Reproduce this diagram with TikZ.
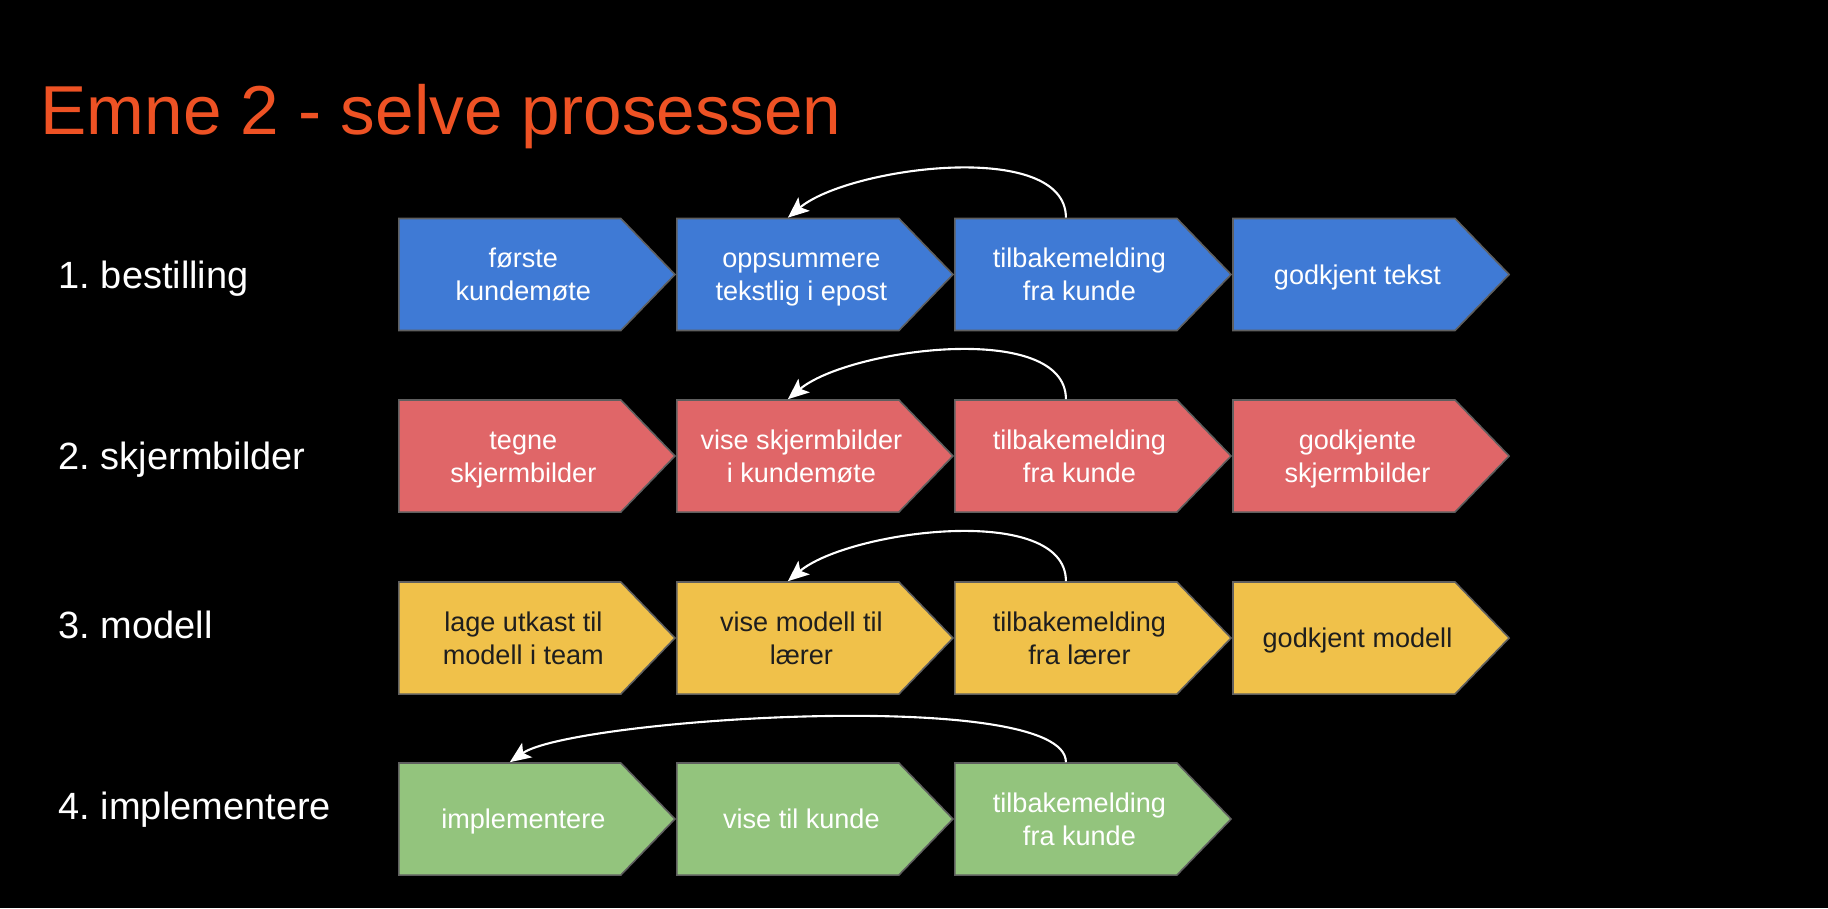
\documentclass[tikz,border=0pt]{standalone}
\usepackage{fontspec}
\setmainfont{Liberation Sans}
\usetikzlibrary{shapes.symbols, positioning, arrows.meta}
\frenchspacing
% text of a step, set a little right of and below the body centre
\newcommand{\steptext}[1]{\raisebox{-0.9pt}[\height][\depth]{\begin{tabular}{@{}c@{\hspace{-0.27cm}}}#1\end{tabular}}}

\begin{document}
\begin{tikzpicture}[x=0.01cm, y=0.01cm,
    stepbox/.style={signal, signal to=east, signal pointer angle=92,
      draw=boxgrey, line width=0.45pt, minimum width=2.76cm, minimum height=1.12cm,
      inner sep=0pt, text=white, font=\fontsize{7.7}{9.3}\selectfont},
    rowlabel/.style={anchor=base west, inner sep=0pt, text=white,
      font=\fontsize{10.8}{13}\selectfont},
    feedback/.style={draw=white, line width=0.6pt,
      -{Stealth[length=6pt, width=5pt, inset=1.4pt]}}]
    % Colors
    \definecolor{boxgrey}{RGB}{95, 95, 95}
    \definecolor{titlered}{RGB}{238, 82, 36}
    \definecolor{bestblue}{RGB}{63, 122, 213}
    \definecolor{skjermred}{RGB}{224, 102, 104}
    \definecolor{modellyellow}{RGB}{240, 193, 74}
    \definecolor{implgreen}{RGB}{147, 196, 125}
    \definecolor{darktext}{RGB}{30, 30, 30}

    % Background
    \fill[black] (0,0) rectangle (1828,908);
    \useasboundingbox (0,0) rectangle (1828,908);

    % Title
    \node[anchor=base west, inner sep=0pt, text=titlered,
      font=\fontsize{19.7}{24}\selectfont] (title) at (40,774) {Emne 2 - selve prosessen};

    % Row labels
    \node[rowlabel] (lab1) at (58,620) {1. bestilling};
    \node[rowlabel] (lab2) at (58,439) {2. skjermbilder};
    \node[rowlabel] (lab3) at (58,270) {3. modell};
    \node[rowlabel] (lab4) at (58,89) {4. implementere};

    % 1. bestilling
    \node[stepbox, fill=bestblue, anchor=west] (b11) at (398,633.5) {\steptext{første\\kundemøte}};
    \node[stepbox, fill=bestblue, right=0pt of b11] (b12) {\steptext{oppsummere\\tekstlig i epost}};
    \node[stepbox, fill=bestblue, right=0pt of b12] (b13) {\steptext{tilbakemelding\\fra kunde}};
    \node[stepbox, fill=bestblue, right=0pt of b13] (b14) {\steptext{godkjent tekst}};

    % 2. skjermbilder
    \node[stepbox, fill=skjermred, anchor=west] (b21) at (398,452) {\steptext{tegne\\skjermbilder}};
    \node[stepbox, fill=skjermred, right=0pt of b21] (b22) {\steptext{vise skjermbilder\\i kundemøte}};
    \node[stepbox, fill=skjermred, right=0pt of b22] (b23) {\steptext{tilbakemelding\\fra kunde}};
    \node[stepbox, fill=skjermred, right=0pt of b23] (b24) {\steptext{godkjente\\skjermbilder}};

    % 3. modell
    \node[stepbox, fill=modellyellow, text=darktext, anchor=west] (b31) at (398,270) {\steptext{lage utkast til\\modell i team}};
    \node[stepbox, fill=modellyellow, text=darktext, right=0pt of b31] (b32) {\steptext{vise modell til\\lærer}};
    \node[stepbox, fill=modellyellow, text=darktext, right=0pt of b32] (b33) {\steptext{tilbakemelding\\fra lærer}};
    \node[stepbox, fill=modellyellow, text=darktext, right=0pt of b33] (b34) {\steptext{godkjent modell}};

    % 4. implementere
    \node[stepbox, fill=implgreen, anchor=west] (b41) at (398,89) {\steptext{implementere}};
    \node[stepbox, fill=implgreen, right=0pt of b41] (b42) {\steptext{vise til kunde}};
    \node[stepbox, fill=implgreen, right=0pt of b42] (b43) {\steptext{tilbakemelding\\fra kunde}};

    % Feedback arrows
    \draw[feedback] (b13.north) to[out=90, in=40, looseness=0.73] (b12.north);
    \draw[feedback] (b23.north) to[out=90, in=40, looseness=0.73] (b22.north);
    \draw[feedback] (b33.north) to[out=90, in=40, looseness=0.73] (b32.north);
    \draw[feedback] (b43.north) to[out=90, in=35, looseness=0.35] (b41.north);
\end{tikzpicture}
\end{document}
